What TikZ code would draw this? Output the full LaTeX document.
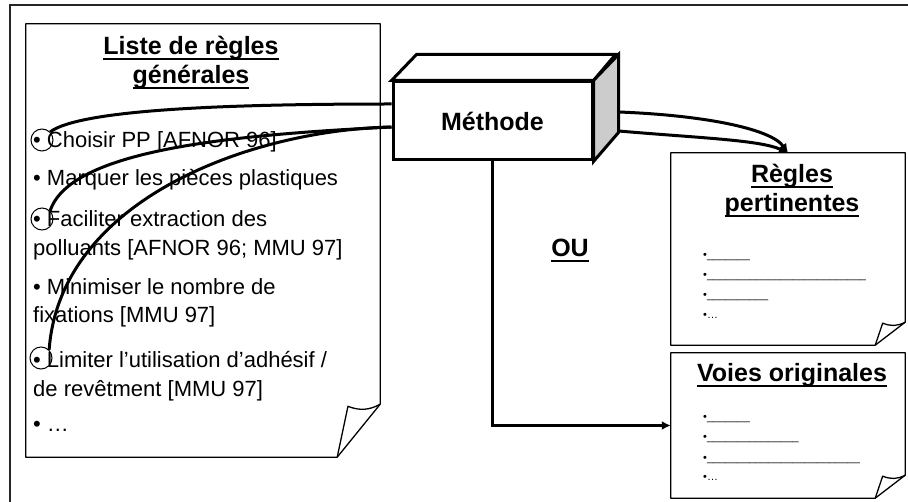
\documentclass[tikz,border=0pt]{standalone}
\usepackage{fontspec}
\setmainfont{Liberation Sans}
\usetikzlibrary{arrows.meta,calc,positioning}
\definecolor{sidegray}{RGB}{204,204,204}
\newcommand{\ulined}[1]{\leavevmode\setbox0\hbox{#1}\rlap{\rule[-0.2em]{\wd0}{0.08em}}\box0}
\tikzset{
  outerframe/.style={black!85,line width=1.5pt},
  pageline/.style={black,line width=1.3pt,line join=round},
  page/.style={draw=none,inner sep=0pt},
  cube/.style={black,line width=3pt,line join=miter},
  methodebox/.style={draw=black,line width=3pt,fill=white,minimum width=199pt,
                     minimum height=78pt,inner sep=0pt,font=\fontsize{25}{30}\selectfont\bfseries},
  link/.style={black,line width=3pt},
  flow/.style={-{Latex[length=9pt,width=9pt]},black,line width=3pt},
  ringmark/.style={circle,draw=black,line width=1pt,minimum size=22pt,inner sep=0pt},
  heading/.style={anchor=base,inner sep=0pt,font=\fontsize{25}{30}\selectfont\bfseries},
  entry/.style={anchor=base west,inner sep=0pt,font=\fontsize{22}{26}\selectfont},
  blank/.style={anchor=base west,inner sep=0pt,font=\fontsize{11}{13}\selectfont},
}

\begin{document}
\begin{tikzpicture}[x=1pt,y=-1pt]
  \path[use as bounding box] (0,0) rectangle (908,502);
  \draw[outerframe] (10,502) -- (10,5) -- (908,5);

  % pages with folded corner
  \node[page,minimum width=354pt,minimum height=433pt] (liste) at (203,240.5) {};
  \node[page,minimum width=234pt,minimum height=192pt] (regles) at (788,249) {};
  \node[page,minimum width=234pt,minimum height=145pt] (voies) at (788,425.5) {};
  \foreach \pg/\fx/\fy in {liste/43/53,regles/30/23,voies/30/23}{
    \draw[pageline] ([xshift=-\fx]\pg.south east) -- (\pg.south west) -- (\pg.north west)
      -- (\pg.north east) -- ([yshift=\fy]\pg.south east) -- cycle;
    \draw[pageline] ([xshift=-\fx]\pg.south east)
      -- ([xshift={-0.75*\fx},yshift={0.96*\fy}]\pg.south east)
      to[bend right=25] ([yshift=\fy]\pg.south east);
  }

  \node[heading] (liste-t1) at (191,55) {\ulined{Liste de règles}};
  \node[heading] (liste-t2) at (191,84) {\ulined{générales}};
  \foreach \y/\txt [count=\i] in {148/{• Choisir PP [AFNOR 96]},186/{• Marquer les pièces plastiques},
      227/{• Faciliter extraction des},256/{polluants [AFNOR 96; MMU 97]},
      295/{• Minimiser le nombre de},323/{fixations [MMU 97]},
      368/{• Limiter l’utilisation d’adhésif /},397/{de revêtment [MMU 97]},432/{• …}}{
    \node[entry] (liste-\i) at (33,\y) {\txt};
  }

  \node[heading] (regles-t1) at (792,183) {\ulined{Règles}};
  \node[heading] (regles-t2) at (792,212) {\ulined{pertinentes}};
  \foreach \y/\txt [count=\i] in {259/{\_\_\_\_\_\_\_},
      279/{\_\_\_\_\_\_\_\_\_\_\_\_\_\_\_\_\_\_\_\_\_\_\_\_\_\_},
      299/{\_\_\_\_\_\_\_\_\_\_},319/{…}}{
    \node[blank] (regles-\i) at (703,\y) {•\txt};
  }

  \node[heading] (voies-t1) at (792,382) {\ulined{Voies originales}};
  \foreach \y/\txt [count=\i] in {421/{\_\_\_\_\_\_\_},441/{\_\_\_\_\_\_\_\_\_\_\_\_\_\_\_},
      461/{\_\_\_\_\_\_\_\_\_\_\_\_\_\_\_\_\_\_\_\_\_\_\_\_\_},481/{…}}{
    \node[blank] (voies-\i) at (703,\y) {•\txt};
  }

  \node[heading] (ou) at (570,257) {\ulined{OU}};

  % the method box
  \node[methodebox] (methode) at (492.5,121) {Méthode};
  \draw[cube,fill=white] (methode.north west) -- ++(25,-26) -- ++(199,0) -- (methode.north east) -- cycle;
  \draw[cube,fill=sidegray] (methode.north east) -- ++(25,-26) -- ++(0,78) -- (methode.south east) -- cycle;

  \node[ringmark] (ring1) at (42,140) {};
  \node[ringmark] (ring2) at (42,219) {};
  \node[ringmark] (ring3) at (41,358) {};

  \draw[link] ([yshift=17]methode.west) .. controls (220,104) and (80,110) .. (ring1.north east);
  \draw[link] ([yshift=-6]methode.west) .. controls (230,135) and (70,150) .. (ring2.north east);
  \draw[link] ([yshift=-6]methode.west) .. controls (250,130) and (60,200) .. (ring3.north east);

  \draw[flow] ([xshift=25,yshift=9]methode.east) .. controls (700,115) and (770,128) .. (regles.north);
  \draw[flow] ([xshift=25,yshift=-10]methode.east) .. controls (700,138) and (760,140) .. (regles.north);
  \draw[flow] (methode.south) |- (voies.west);
\end{tikzpicture}
\end{document}
